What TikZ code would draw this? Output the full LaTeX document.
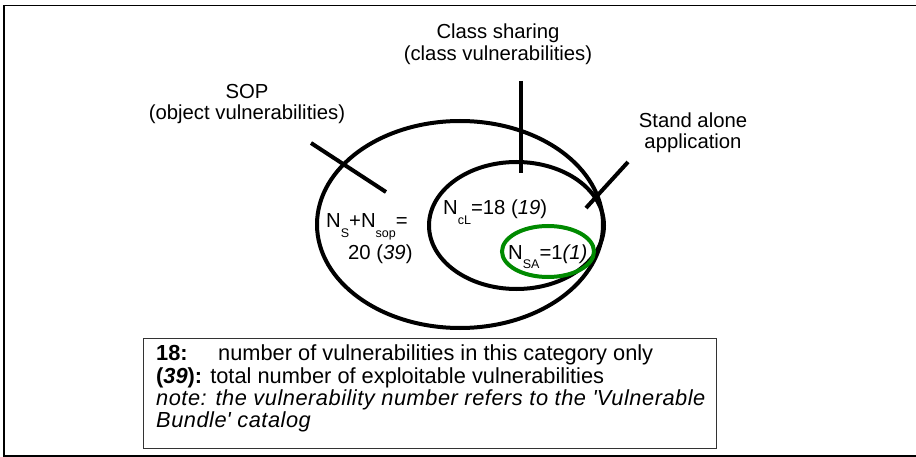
\documentclass[tikz,border=0pt]{standalone}
\usepackage{fontspec}
\setmainfont{Liberation Sans}
\usetikzlibrary{positioning}
% subscript set low and small, as in N_{SA}
\newcommand{\lowsub}[1]{\raisebox{-9.5pt}{\fontsize{12.5}{12.5}\selectfont #1}}
% italic note lines, set slightly looser
\newcommand{\noteline}[1]{{\itshape\addfontfeatures{LetterSpace=2.4}#1}}
\begin{document}
\begin{tikzpicture}[x=1pt,y=-1pt,
  ring/.style={draw=black, line width=4pt},
  greenring/.style={draw=black!40!green!90!black, line width=4pt},
  pointer/.style={draw=black, line width=4pt},
  lbl/.style={font=\fontsize{20.3}{21.5}\selectfont, align=center, inner sep=0pt},
  countlbl/.style={font=\fontsize{20.3}{21.5}\selectfont, inner sep=0pt, anchor=base west},
  frameline/.style={draw=black, line width=1.7pt},
  legendbox/.style={draw=black!80, line width=1pt, anchor=north west, inner sep=0pt},
  legendtext/.style={font=\fontsize{21.8}{22.3}\selectfont, align=left, inner sep=0pt, anchor=north west}]
\useasboundingbox (0,0) rectangle (916,457);

% outer frame (open on the right)
\draw[frameline] (925,5.5) -- (4,5.5) -- (4,456) -- (925,456);

% category sets
\draw[ring] (460,224.5) ellipse [x radius=143pt, y radius=103.5pt];
\draw[ring] (516.5,225.5) ellipse [x radius=87.5pt, y radius=63.5pt];
\draw[greenring] (548,251.5) ellipse [x radius=46pt, y radius=25.5pt];

% category titles
\node[lbl] (sop) at (247,104) {SOP\\(object vulnerabilities)};
\node[lbl] (cls) at (498,44) {Class sharing\\(class vulnerabilities)};
\node[lbl] (sa) at (693,133) {Stand alone\\application};

% pointer lines from the titles into the sets
\coordinate (sopA) at (311,143);
\coordinate (sopB) at (386,192);
\coordinate (clsA) at (521,81);
\coordinate (clsB) at (521,173);
\coordinate (saA) at (628,162);
\coordinate (saB) at (586,208);
\draw[pointer] (sopA) -- (sopB);
\draw[pointer] (clsA) -- (clsB);
\draw[pointer] (saA) -- (saB);

% counts inside the sets
\node[countlbl] (nsop) at (326,228) {N\lowsub{S}+N\lowsub{sop}=};
\node[countlbl] (nsop2) at (348,259) {20 (\textit{39})};
\node[countlbl] (ncl) at (443,215) {N\lowsub{cL}=18 (\textit{19})};
\node[countlbl] (nsa) at (508,259) {N\lowsub{SA}=1\textit{(1)}};

% legend
\node[legendbox, minimum width=573pt, minimum height=110pt] (legend) at (143,338) {};
\node[legendtext] (legtext) at ([xshift=13pt,yshift=-7pt]legend.north west)
  {\makebox[62pt][l]{\textbf{18:}}number of vulnerabilities in this category only\\
   \textbf{(\textit{39}):} total number of exploitable vulnerabilities\\
   \noteline{note: the vulnerability number refers to the \textquotesingle Vulnerable}\\
   \noteline{Bundle\textquotesingle\ catalog}};
\end{tikzpicture}
\end{document}
